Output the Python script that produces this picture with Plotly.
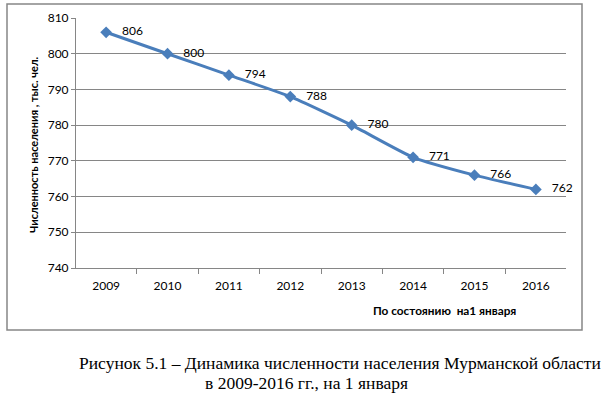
import plotly.graph_objects as go

years = ["2009", "2010", "2011", "2012", "2013", "2014", "2015", "2016"]
population = [806, 800, 794, 788, 780, 771, 766, 762]
y_ticks = [740, 750, 760, 770, 780, 790, 800, 810]

W, H = 606, 398
def px(x): return x / W
def py(y): return (H - y) / H

fig = go.Figure()
fig.add_trace(go.Scatter(
    x=years, y=population,
    mode="lines+markers+text",
    line=dict(color="#4A7EBB", width=3, shape="spline", smoothing=0.5),
    marker=dict(symbol="diamond", size=9, color="#4A7EBB"),
    text=[str(v) for v in population],
    texttemplate="   %{text}",
    textposition="middle right",
    textfont=dict(family="Lato, Liberation Sans, sans-serif", size=12, color="#000000"),
    cliponaxis=False,
    hoverinfo="skip",
))

fig.update_layout(
    width=W, height=H,
    margin=dict(l=0, r=0, t=0, b=0, autoexpand=False),
    paper_bgcolor="white", plot_bgcolor="white",
    showlegend=False,
    xaxis=dict(
        type="category", domain=[px(76), px(566)], automargin=False,
        tickson="boundaries", ticks="outside", ticklen=5, tickcolor="#868686",
        ticklabelstandoff=7,
        showline=True, linecolor="#868686", linewidth=1,
        showgrid=False, zeroline=False,
        tickfont=dict(family="Lato, Liberation Sans, sans-serif", size=12, color="#000000"),
        anchor="y",
    ),
    yaxis=dict(
        domain=[py(268), py(18)], range=[740, 810], automargin=False,
        tickvals=y_ticks, ticks="outside", ticklen=4, tickcolor="#868686",
        showline=True, linecolor="#868686", linewidth=1,
        showgrid=True, gridcolor="#868686", gridwidth=1, zeroline=False,
        tickfont=dict(family="Lato, Liberation Sans, sans-serif", size=12, color="#000000"),
        anchor="x",
    ),
    font=dict(family="Lato, Liberation Sans, sans-serif"),
)

# outer chart border
fig.add_shape(type="rect", xref="paper", yref="paper",
              x0=px(7), x1=px(582), y0=py(330), y1=py(4),
              line=dict(color="#868686", width=1.5), fillcolor="rgba(0,0,0,0)")

fig.add_annotation(text="<b>Численность населения , тыс. чел.</b>",
                   xref="paper", yref="paper", x=px(33), y=py(145),
                   xanchor="center", yanchor="middle",
                   textangle=-90, showarrow=False,
                   font=dict(family="Lato, Liberation Sans, sans-serif", size=11, color="#000000"))
fig.add_annotation(text="<b>По состоянию  на1 января</b>",
                   xref="paper", yref="paper", x=px(444), y=py(310),
                   xanchor="center", yanchor="middle", showarrow=False,
                   font=dict(family="Lato, Liberation Sans, sans-serif", size=11.8, color="#000000"))

fig.add_annotation(text="Рисунок 5.1 – Динамика численности населения Мурманской области",
                   xref="paper", yref="paper", x=px(340), y=py(363),
                   xanchor="center", yanchor="middle", showarrow=False,
                   font=dict(family="Liberation Serif, Times New Roman, serif", size=17.5, color="#000000"))
fig.add_annotation(text="в 2009-2016 гг., на 1 января",
                   xref="paper", yref="paper", x=px(306), y=py(383),
                   xanchor="center", yanchor="middle", showarrow=False,
                   font=dict(family="Liberation Serif, Times New Roman, serif", size=17.5, color="#000000"))

fig.write_html("out.html",
               config={"displayModeBar": False, "staticPlot": True},
               post_script="document.body.style.margin='0px';document.body.style.overflow='hidden';")
